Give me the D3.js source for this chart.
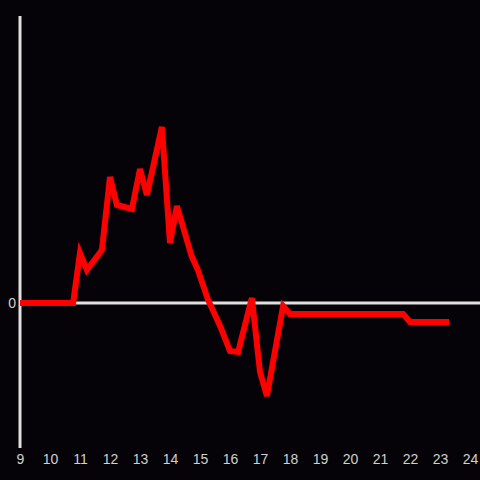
<!DOCTYPE html>
<html>
<head>
<meta charset="utf-8">
<script src="https://cdn.jsdelivr.net/npm/d3@7"></script>
<style>
  html, body { margin: 0; padding: 0; background: #050308; }
  svg { display: block; }
</style>
</head>
<body>
<div id="chart"></div>
<script>
// hours of day and the value at each
var hours = [9, 10.77, 11.0, 11.23, 11.73, 12.0, 12.23, 12.73, 13.0, 13.23, 13.73, 14.0, 14.23,
  14.72, 14.93, 15.27, 15.67, 16.0, 16.27, 16.73, 17.0, 17.23, 17.77, 18.0, 21.77, 22.0, 23.3]
var values = [0, 0, 50, 33, 53, 126, 98, 94, 134, 108, 176, 60, 97,
  47, 33, 3, -23, -48, -49, 5, -69, -93, -3, -11, -11, -19, -19]
var xTicks = [9, 10, 11, 12, 13, 14, 15, 16, 17, 18, 19, 20, 21, 22, 23, 24]
var yTicks = [0]

var width = 480, height = 480

var data = hours.map(function(h, i) { return { x: h, y: values[i] } })

var svg = d3.select("#chart").append("svg")
  .attr("width", width)
  .attr("height", height)

svg.append("rect")
  .attr("width", width).attr("height", height)
  .attr("fill", "#050308")

var x = d3.scaleLinear().domain([9, 24]).range([20, 470])
var y = d3.scaleLinear().domain([-145, 287]).range([448, 16])

// x axis labels
var xAxis = svg.append("g")
  .attr("transform", "translate(0,448)")
  .call(d3.axisBottom(x).tickValues(xTicks).tickSize(0).tickPadding(6).tickFormat(d3.format("d")))
xAxis.select(".domain").remove()
xAxis.selectAll("text")
  .attr("fill", "#d0d0d0")
  .style("font-family", "'Liberation Sans', Arial, sans-serif")
  .style("font-size", "14px")

// y axis: vertical line + zero label
var yAxis = svg.append("g")
  .attr("transform", "translate(20,0)")
  .call(d3.axisLeft(y).tickValues(yTicks).tickSize(0).tickPadding(4))
yAxis.select(".domain").remove()
yAxis.selectAll("text")
  .attr("fill", "#d0d0d0")
  .style("font-family", "'Liberation Sans', Arial, sans-serif")
  .style("font-size", "14px")

svg.append("line")
  .attr("x1", x(9)).attr("x2", x(9))
  .attr("y1", y(287)).attr("y2", y(-145))
  .style("stroke", "#e0e0e0")
  .style("stroke-width", 3)

// zero line
svg.append("line")
  .attr("x1", x(9)).attr("x2", width)
  .attr("y1", y(0)).attr("y2", y(0))
  .style("stroke", "#e0e0e0")
  .style("stroke-width", 3)

var line = d3.line()
  .x(function(d) { return x(d.x) })
  .y(function(d) { return y(d.y) })

svg.append("path")
  .datum(data)
  .attr("d", line)
  .attr("fill", "none")
  .style("stroke", "#ff0000")
  .style("stroke-width", 6)
</script>
</body>
</html>
